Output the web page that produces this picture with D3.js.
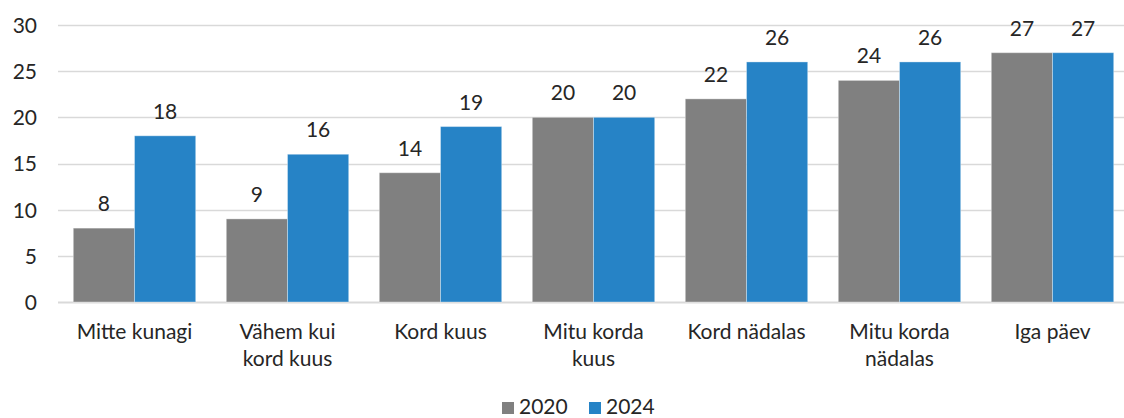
<!DOCTYPE html>
<html>
<head>
<meta charset="utf-8">
<script src="https://cdn.jsdelivr.net/npm/d3@7"></script>
<style>
  html, body { margin: 0; padding: 0; background: #fff; }
  svg { display: block; font-family: Lato, "Noto Sans", sans-serif; }
</style>
</head>
<body>
<svg id="chart" width="1124" height="418"></svg>
<script>
// Category labels (line breaks mark where each label wraps)
const categories = [
  "Mitte kunagi",
  "Vähem kui\nkord kuus",
  "Kord kuus",
  "Mitu korda\nkuus",
  "Kord nädalas",
  "Mitu korda\nnädalas",
  "Iga päev"
];
const seriesNames = ["2020", "2024"];
const values2020 = [8, 9, 14, 20, 22, 24, 27];
const values2024 = [18, 16, 19, 20, 26, 26, 27];
const yTicks = [0, 5, 10, 15, 20, 25, 30];
const colors = ["#808080", "#2683C6"];

const svg = d3.select("#chart");
const textColor = "#262626";
const gridColor = "#D9D9D9";
const fontSize = 21;

const x = d3.scaleBand()
  .domain(categories)
  .range([58, 1129])
  .paddingInner(0.2)
  .paddingOuter(0.1);

const xInner = d3.scaleBand()
  .domain(seriesNames)
  .range([0, x.bandwidth()]);

const y = d3.scaleLinear()
  .domain([0, 30])
  .range([302, 25]);

// Horizontal gridlines
svg.append("g")
  .selectAll("line")
  .data(yTicks)
  .join("line")
  .attr("x1", 58)
  .attr("x2", 1124)
  .attr("y1", d => Math.round(y(d)) + 0.5)
  .attr("y2", d => Math.round(y(d)) + 0.5)
  .attr("stroke", gridColor)
  .attr("stroke-width", d => d === 0 ? 2 : 1.5);

// Y axis labels
const yAxis = d3.axisLeft(y).tickValues(yTicks).tickSize(0).tickPadding(0);
const yg = svg.append("g").attr("transform", "translate(37,0)").call(yAxis);
yg.select(".domain").remove();
yg.selectAll("text")
  .attr("fill", textColor)
  .attr("font-size", fontSize)
  .attr("font-family", "Lato, 'Noto Sans', sans-serif")
  .attr("dy", "0.35em");

// Bars
const rows = categories.map((c, i) => ({
  cat: c,
  vals: [
    { key: seriesNames[0], v: values2020[i] },
    { key: seriesNames[1], v: values2024[i] }
  ]
}));

const groups = svg.append("g")
  .selectAll("g")
  .data(rows)
  .join("g")
  .attr("transform", d => `translate(${x(d.cat)},0)`);

groups.selectAll("rect")
  .data(d => d.vals)
  .join("rect")
  .attr("x", d => xInner(d.key))
  .attr("width", xInner.bandwidth())
  .attr("y", d => y(d.v))
  .attr("height", d => y(0) - y(d.v))
  .attr("fill", (d, i) => colors[i])
  .attr("stroke", "#ffffff")
  .attr("stroke-opacity", 0.35)
  .attr("stroke-width", 1);

// Value labels
groups.selectAll("text.value")
  .data(d => d.vals)
  .join("text")
  .attr("class", "value")
  .attr("x", d => xInner(d.key) + xInner.bandwidth() / 2)
  .attr("y", d => y(d.v) - 17)
  .attr("text-anchor", "middle")
  .attr("font-size", fontSize)
  .attr("fill", textColor)
  .text(d => d.v);

// Category labels
const xLabels = svg.append("g")
  .selectAll("text")
  .data(categories)
  .join("text")
  .attr("x", d => x(d) + x.bandwidth() / 2)
  .attr("y", 339)
  .attr("text-anchor", "middle")
  .attr("font-size", fontSize)
  .attr("fill", textColor);

xLabels.selectAll("tspan")
  .data(d => d.split("\n").map(line => ({ line, cx: x(d) + x.bandwidth() / 2 })))
  .join("tspan")
  .attr("x", d => d.cx)
  .attr("dy", (d, i) => i === 0 ? 0 : 27)
  .text(d => d.line);

// Legend
const legendItems = [
  { name: seriesNames[0], color: colors[0], sx: 502 },
  { name: seriesNames[1], color: colors[1], sx: 589 }
];
const legend = svg.append("g").selectAll("g")
  .data(legendItems)
  .join("g")
  .attr("transform", d => `translate(${d.sx},0)`);
legend.append("rect")
  .attr("x", 0)
  .attr("y", 402)
  .attr("width", 12)
  .attr("height", 12)
  .attr("fill", d => d.color);
legend.append("text")
  .attr("x", 17)
  .attr("y", 414)
  .attr("font-size", fontSize)
  .attr("fill", textColor)
  .text(d => d.name);
</script>
</body>
</html>
